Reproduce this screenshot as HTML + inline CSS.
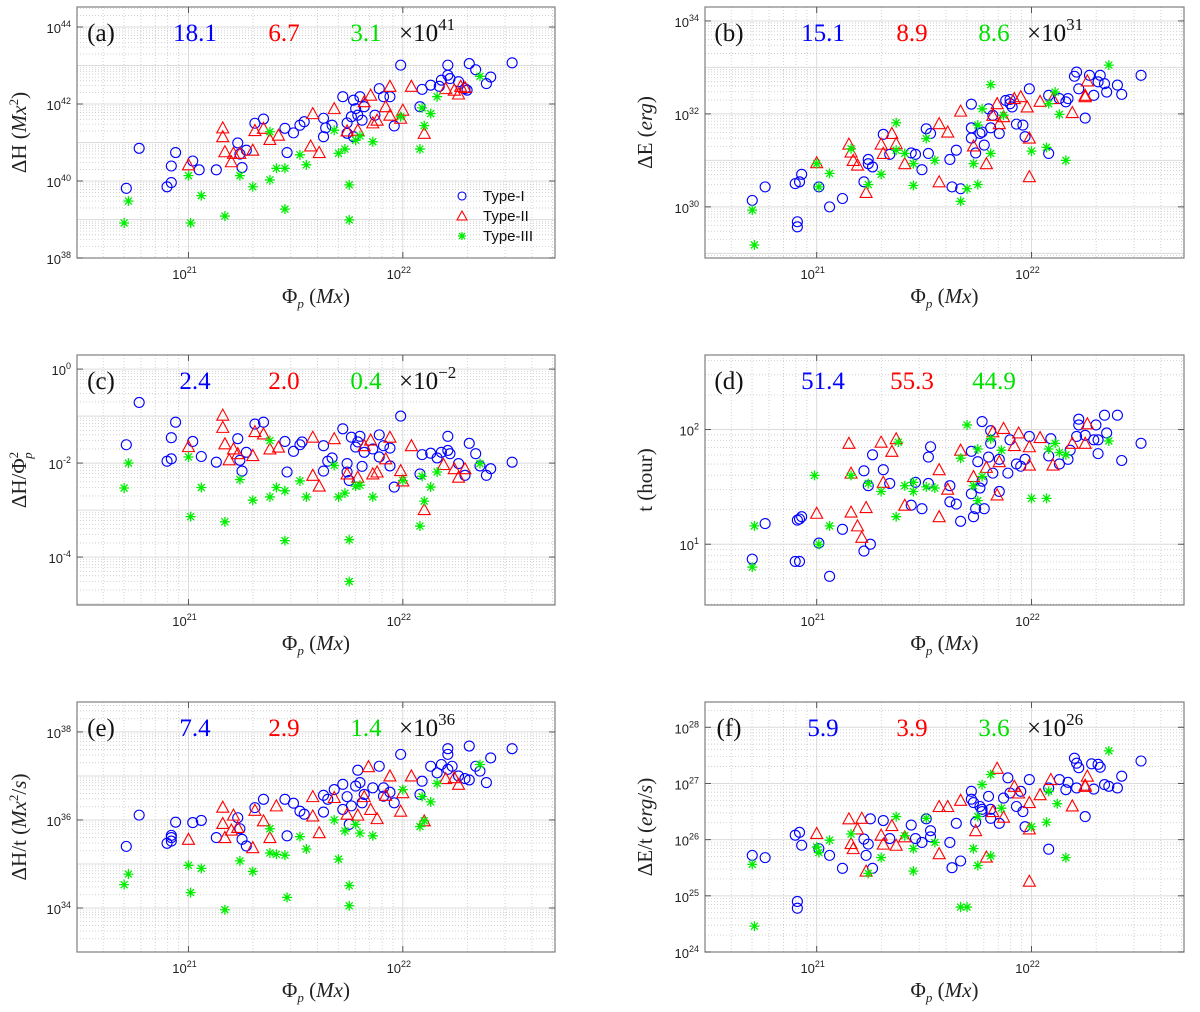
<!DOCTYPE html>
<html><head><meta charset="utf-8">
<style>
html,body{margin:0;padding:0;background:#fff;}
svg{display:block;}
.tick{font-family:"Liberation Sans",sans-serif;font-size:13px;fill:#222;}
.lab{font-family:"Liberation Serif",serif;font-size:21px;fill:#222;}
.ann{font-family:"Liberation Serif",serif;font-size:25px;}
.leg{font-family:"Liberation Sans",sans-serif;font-size:15px;fill:#111;}
</style></head>
<body>
<svg id="fig" width="1200" height="1012" viewBox="0 0 1200 1012" xmlns="http://www.w3.org/2000/svg"></svg>
<script>
// ===== data: [log10(Phi_p), log10(value)] =====
const aBlue=[[20.71,39.81],[20.77,40.85],[20.90,39.85],[20.92,39.96],[20.92,40.39],[20.94,40.74],[21.02,40.52],[21.05,40.29],[21.13,40.29],[21.23,40.99],[21.24,40.70],[21.25,40.35],[21.27,40.80],[21.31,41.50],[21.35,41.61],[21.45,41.37],[21.46,40.74],[21.49,41.25],[21.52,41.45],[21.54,41.54],[21.63,41.63],[21.63,41.15],[21.64,41.38],[21.67,41.45],[21.72,42.19],[21.74,41.24],[21.74,41.51],[21.76,41.67],[21.77,42.10],[21.78,41.88],[21.79,41.71],[21.80,42.19],[21.81,41.58],[21.82,41.93],[21.87,41.71],[21.89,42.40],[21.91,42.19],[21.94,42.19],[21.96,41.43],[21.99,43.01],[22.08,41.93],[22.09,42.38],[22.13,42.49],[22.17,42.46],[22.18,42.62],[22.21,43.01],[22.21,42.75],[22.22,42.66],[22.26,42.58],[22.29,42.40],[22.30,42.36],[22.31,43.05],[22.34,42.89],[22.39,42.53],[22.41,42.70],[22.51,43.07],[21.77,41.15]];
const aRed=[[21.16,41.38],[21.16,41.15],[21.17,40.76],[21.20,40.50],[21.21,40.72],[21.24,40.72],[21.30,40.80],[21.31,41.31],[21.35,41.37],[21.38,41.08],[21.42,41.19],[21.58,41.75],[21.57,40.91],[21.61,40.74],[21.68,41.88],[21.74,41.30],[21.79,41.32],[21.82,42.06],[21.85,42.23],[21.86,41.51],[21.88,41.58],[21.92,41.93],[21.94,42.46],[21.94,41.71],[21.99,41.63],[22.00,41.84],[22.04,42.46],[22.10,41.24],[22.20,42.40],[22.24,42.36],[22.26,42.26],[22.27,42.46],[22.29,42.43],[21.00,40.42]];
const aGreen=[[20.70,38.91],[20.72,39.48],[21.00,40.14],[21.01,38.91],[21.06,39.62],[21.17,39.09],[21.24,40.14],[21.30,39.85],[21.38,40.03],[21.38,41.28],[21.41,40.33],[21.45,40.33],[21.45,39.27],[21.52,40.68],[21.55,40.42],[21.68,41.32],[21.70,40.72],[21.73,40.83],[21.75,39.90],[21.75,38.99],[21.78,41.06],[21.80,41.17],[21.86,41.02],[21.99,41.67],[22.08,40.83],[22.09,41.90],[22.10,41.44],[22.13,41.75],[22.16,42.19],[22.36,42.72]];

const bBlue=[[20.70,30.14],[20.76,30.43],[20.90,30.50],[20.92,30.54],[20.93,30.70],[20.91,29.68],[20.91,29.57],[21.01,30.43],[21.06,30.00],[21.12,30.18],[21.22,30.54],[21.24,31.02],[21.24,30.93],[21.26,30.86],[21.31,31.56],[21.34,31.13],[21.44,31.16],[21.46,31.13],[21.49,30.80],[21.51,31.68],[21.52,31.15],[21.53,31.58],[21.62,31.02],[21.63,30.43],[21.65,31.22],[21.67,30.39],[21.72,32.21],[21.72,31.70],[21.72,31.48],[21.74,31.16],[21.76,31.58],[21.77,31.61],[21.78,31.33],[21.80,32.11],[21.81,31.70],[21.82,31.97],[21.85,31.58],[21.88,32.29],[21.90,32.31],[21.91,32.15],[21.93,31.78],[21.96,31.76],[21.97,31.51],[21.99,32.54],[22.08,31.15],[22.08,32.40],[22.13,32.33],[22.16,32.26],[22.17,32.33],[22.20,32.81],[22.21,32.90],[22.22,32.54],[22.25,31.91],[22.27,32.83],[22.29,32.40],[22.31,32.69],[22.34,32.65],[22.35,32.47],[22.40,32.62],[22.42,32.42],[22.51,32.83],[22.32,32.83],[21.90,32.22]];
const bRed=[[21.00,30.95],[21.15,31.35],[21.16,31.18],[21.17,31.00],[21.19,30.90],[21.23,30.31],[21.30,31.35],[21.31,31.15],[21.35,31.58],[21.37,31.36],[21.41,30.93],[21.57,30.54],[21.57,31.79],[21.61,31.61],[21.67,32.06],[21.73,31.31],[21.79,30.93],[21.82,31.97],[21.84,32.22],[21.85,31.79],[21.87,31.94],[21.92,32.33],[21.95,32.37],[21.98,32.15],[21.99,31.48],[21.99,30.65],[22.04,32.27],[22.10,32.33],[22.19,32.03],[22.25,32.37],[22.25,32.40],[22.26,32.71]];
const bGreen=[[20.70,29.93],[20.71,29.18],[21.00,30.93],[21.01,30.43],[21.06,30.72],[21.16,31.25],[21.24,30.48],[21.30,30.70],[21.37,31.81],[21.37,31.22],[21.41,31.15],[21.45,30.93],[21.45,30.46],[21.51,31.47],[21.55,31.00],[21.67,30.12],[21.70,30.39],[21.73,30.93],[21.75,30.48],[21.75,31.76],[21.77,32.11],[21.81,32.63],[21.81,31.15],[21.87,31.97],[22.00,31.20],[22.07,31.28],[22.08,32.22],[22.11,32.47],[22.13,31.99],[22.16,31.00],[22.36,33.05]];

const cBlue=[[20.71,-1.61],[20.77,-0.71],[20.90,-1.96],[20.92,-1.91],[20.92,-1.46],[20.94,-1.13],[21.02,-1.54],[21.06,-1.86],[21.13,-1.98],[21.23,-1.48],[21.24,-1.94],[21.25,-2.17],[21.27,-1.77],[21.31,-1.17],[21.35,-1.13],[21.45,-1.54],[21.46,-2.19],[21.49,-1.75],[21.52,-1.61],[21.53,-1.55],[21.63,-1.63],[21.63,-2.17],[21.65,-1.96],[21.67,-1.89],[21.72,-1.27],[21.74,-2.01],[21.74,-2.19],[21.75,-2.37],[21.76,-1.45],[21.78,-1.66],[21.79,-1.55],[21.80,-1.43],[21.81,-2.07],[21.82,-1.77],[21.86,-1.70],[21.89,-1.40],[21.91,-1.63],[21.94,-1.68],[21.94,-2.06],[21.96,-2.51],[21.99,-1.00],[22.08,-2.23],[22.09,-1.82],[22.13,-1.79],[22.16,-1.89],[22.18,-1.77],[22.21,-1.43],[22.21,-1.73],[22.22,-1.80],[22.26,-2.01],[22.29,-2.26],[22.31,-1.58],[22.34,-1.80],[22.36,-2.06],[22.39,-2.26],[22.41,-2.12],[22.51,-1.98],[21.89,-1.87]];
const cRed=[[21.00,-1.65],[21.16,-0.98],[21.16,-1.24],[21.17,-1.59],[21.19,-1.93],[21.21,-1.70],[21.23,-1.80],[21.30,-1.84],[21.31,-1.33],[21.35,-1.38],[21.38,-1.70],[21.42,-1.66],[21.58,-2.26],[21.58,-1.45],[21.61,-2.49],[21.68,-1.48],[21.74,-2.23],[21.79,-2.30],[21.82,-1.63],[21.85,-1.51],[21.86,-2.23],[21.88,-2.19],[21.92,-1.91],[21.94,-1.45],[21.99,-2.16],[22.00,-2.38],[22.04,-1.63],[22.10,-2.99],[22.19,-2.03],[22.24,-2.12],[22.26,-2.30],[22.29,-2.12]];
const cGreen=[[20.70,-2.53],[20.72,-2.00],[21.00,-1.87],[21.01,-3.14],[21.06,-2.52],[21.17,-3.25],[21.24,-2.35],[21.30,-2.79],[21.38,-2.72],[21.38,-1.52],[21.41,-2.52],[21.45,-2.59],[21.45,-3.65],[21.52,-2.38],[21.55,-2.72],[21.68,-2.05],[21.70,-2.72],[21.73,-2.64],[21.75,-3.63],[21.75,-4.52],[21.78,-2.49],[21.80,-2.47],[21.86,-2.72],[22.00,-2.37],[22.08,-3.34],[22.09,-2.28],[22.10,-2.81],[22.13,-2.51],[22.16,-2.19],[22.36,-2.01]];

const dBlue=[[20.70,0.87],[20.76,1.18],[20.90,0.85],[20.92,0.85],[20.91,1.21],[20.92,1.22],[20.93,1.24],[21.01,1.01],[21.06,0.72],[21.12,1.13],[21.22,0.94],[21.25,1.00],[21.22,1.64],[21.24,1.51],[21.26,1.78],[21.31,1.65],[21.34,1.53],[21.44,1.34],[21.46,1.54],[21.49,1.31],[21.52,1.76],[21.53,1.85],[21.52,1.53],[21.62,1.51],[21.62,1.37],[21.65,1.35],[21.67,1.20],[21.72,1.81],[21.72,1.44],[21.73,1.24],[21.75,1.72],[21.74,1.31],[21.76,1.49],[21.77,1.55],[21.78,1.31],[21.77,2.07],[21.80,1.76],[21.81,1.99],[21.81,1.88],[21.82,1.62],[21.85,1.74],[21.85,1.46],[21.89,1.62],[21.90,1.91],[21.93,1.70],[21.95,1.68],[21.97,1.74],[21.99,1.94],[22.08,1.77],[22.09,1.92],[22.13,1.70],[22.17,1.74],[22.18,1.82],[22.21,1.94],[22.22,2.09],[22.22,2.04],[22.25,1.95],[22.29,1.91],[22.30,2.04],[22.31,1.79],[22.31,1.91],[22.34,2.125],[22.35,1.97],[22.40,2.125],[22.42,1.73],[22.51,1.88]];
const dRed=[[21.00,1.27],[21.15,1.88],[21.16,1.62],[21.16,1.28],[21.19,1.16],[21.21,1.06],[21.23,1.32],[21.30,1.89],[21.31,1.54],[21.35,1.81],[21.37,1.92],[21.41,1.34],[21.57,1.65],[21.57,1.24],[21.61,1.48],[21.67,1.82],[21.73,1.59],[21.79,1.67],[21.82,1.98],[21.84,1.43],[21.85,1.72],[21.87,2.01],[21.92,1.86],[21.94,1.97],[21.99,1.85],[21.99,1.69],[22.04,1.93],[22.10,1.69],[22.19,1.88],[22.25,1.88],[22.26,2.05]];
const dGreen=[[20.70,0.80],[20.71,1.16],[20.99,1.60],[21.01,1.00],[21.06,1.16],[21.16,1.60],[21.24,1.53],[21.30,1.46],[21.37,1.24],[21.38,1.89],[21.41,1.51],[21.45,1.46],[21.45,1.54],[21.51,1.50],[21.55,1.49],[21.67,1.75],[21.70,2.04],[21.73,1.51],[21.75,1.38],[21.75,1.83],[21.77,1.59],[21.81,1.92],[21.86,1.82],[22.00,1.40],[22.07,1.40],[22.08,1.83],[22.11,1.88],[22.13,1.80],[22.16,1.78],[22.36,1.90]];

const eBlue=[[20.71,35.40],[20.77,36.11],[20.90,35.47],[20.92,35.60],[20.92,35.65],[20.92,35.52],[20.94,35.95],[21.02,35.94],[21.06,35.99],[21.13,35.60],[21.23,36.05],[21.24,35.80],[21.25,35.56],[21.27,35.41],[21.31,36.28],[21.35,36.47],[21.45,36.47],[21.46,35.64],[21.49,36.38],[21.52,36.20],[21.54,36.13],[21.63,36.56],[21.63,36.18],[21.65,36.47],[21.68,36.69],[21.72,36.81],[21.72,36.24],[21.74,36.53],[21.75,35.90],[21.76,36.32],[21.78,36.77],[21.79,37.13],[21.80,36.85],[21.81,36.39],[21.82,36.58],[21.86,36.73],[21.89,37.22],[21.91,36.73],[21.94,36.63],[21.96,36.39],[21.99,37.49],[22.08,36.58],[22.09,36.88],[22.13,37.22],[22.16,37.07],[22.18,37.26],[22.21,37.62],[22.21,37.49],[22.21,37.15],[22.23,37.22],[22.26,37.00],[22.29,36.94],[22.31,36.91],[22.31,37.68],[22.34,37.22],[22.36,37.11],[22.39,36.85],[22.41,37.41],[22.51,37.62],[21.91,36.54]];
const eRed=[[21.00,35.56],[21.16,36.29],[21.16,35.92],[21.17,35.60],[21.20,35.77],[21.21,36.11],[21.23,35.83],[21.30,35.37],[21.31,36.22],[21.35,35.98],[21.38,35.60],[21.41,36.32],[21.58,36.09],[21.58,36.53],[21.61,35.71],[21.68,36.51],[21.74,36.13],[21.79,36.11],[21.82,36.53],[21.84,37.21],[21.85,36.24],[21.88,36.03],[21.92,36.56],[21.94,37.00],[21.99,36.20],[22.00,36.62],[22.04,37.00],[22.10,35.98],[22.20,36.94],[22.24,36.96],[22.26,36.81]];
const eGreen=[[20.70,34.53],[20.72,34.77],[21.00,34.97],[21.01,34.35],[21.06,34.90],[21.17,33.96],[21.24,35.07],[21.30,34.83],[21.38,35.80],[21.38,35.25],[21.41,35.22],[21.45,35.20],[21.46,34.24],[21.52,35.62],[21.55,35.34],[21.68,36.00],[21.70,35.11],[21.73,35.75],[21.75,34.51],[21.75,34.05],[21.78,35.90],[21.80,35.70],[21.86,35.64],[22.00,36.69],[22.08,35.85],[22.09,36.53],[22.10,35.98],[22.13,36.41],[22.16,36.83],[22.36,37.26]];

const fBlue=[[20.70,25.72],[20.76,25.68],[20.90,26.08],[20.92,26.13],[20.93,25.90],[20.91,24.90],[20.91,24.78],[21.01,25.84],[21.06,25.72],[21.12,25.49],[21.22,26.01],[21.23,25.72],[21.24,25.92],[21.25,26.37],[21.26,25.49],[21.31,26.34],[21.34,26.02],[21.44,26.26],[21.46,26.02],[21.49,25.95],[21.51,26.37],[21.53,26.16],[21.53,26.05],[21.62,25.95],[21.63,25.50],[21.65,26.29],[21.67,25.62],[21.72,26.86],[21.72,26.72],[21.73,26.66],[21.74,26.31],[21.76,26.59],[21.77,26.54],[21.77,26.50],[21.80,26.77],[21.81,26.54],[21.81,26.38],[21.85,26.29],[21.87,26.74],[21.89,27.10],[21.90,26.83],[21.93,26.59],[21.95,26.86],[21.96,26.50],[21.97,26.23],[21.99,27.07],[22.08,25.83],[22.08,26.92],[22.13,27.07],[22.16,26.89],[22.17,27.02],[22.20,27.45],[22.21,27.36],[22.21,26.92],[22.22,27.28],[22.25,26.41],[22.29,26.90],[22.28,27.35],[22.31,27.34],[22.32,27.29],[22.34,26.98],[22.36,26.95],[22.40,26.92],[22.42,27.13],[22.51,27.40]];
const fRed=[[21.00,26.11],[21.15,26.37],[21.16,25.93],[21.17,25.84],[21.19,26.19],[21.21,26.38],[21.23,25.44],[21.30,26.08],[21.31,25.92],[21.35,26.25],[21.37,25.90],[21.41,26.05],[21.57,25.75],[21.57,26.59],[21.61,26.59],[21.67,26.70],[21.74,26.16],[21.79,25.69],[21.82,26.50],[21.84,27.27],[21.87,26.40],[21.92,26.95],[21.94,26.83],[21.99,26.66],[21.99,26.19],[21.99,25.26],[22.04,26.80],[22.09,27.07],[22.19,26.60],[22.25,26.95],[22.25,26.97],[22.26,27.13]];
const fGreen=[[20.70,25.56],[20.71,24.46],[21.00,25.87],[21.01,25.77],[21.06,25.99],[21.16,26.10],[21.24,25.40],[21.30,25.68],[21.37,26.41],[21.41,26.07],[21.45,25.84],[21.45,25.44],[21.51,26.38],[21.55,25.95],[21.67,24.80],[21.70,24.80],[21.73,25.84],[21.75,25.54],[21.75,26.41],[21.77,26.98],[21.81,27.16],[21.81,25.71],[21.86,26.56],[22.00,26.23],[22.07,26.31],[22.08,26.86],[22.12,26.64],[22.16,25.68],[22.36,27.58]];

const meanBlue=['18.1','15.1','2.4','51.4','7.4','5.9'];
const meanRed=['6.7','8.9','2.0','55.3','2.9','3.9'];
const meanGreen=['3.1','8.6','0.4','44.9','1.4','3.6'];
const meanExp=['41','31','\u22122','','36','26'];
const xTickExps=[21,22];

const panels=[
 {k:'a',L:77,T:7,R:555,B:258,y0:38,y1:44.52,yt:[38,40,42,44],data:[aBlue,aRed,aGreen],ylab:'a'},
 {k:'b',L:705,T:7,R:1184,B:258,y0:28.9,y1:34.3,yt:[30,32,34],data:[bBlue,bRed,bGreen],ylab:'b'},
 {k:'c',L:77,T:355,R:555,B:605,y0:-5.02,y1:0.3,yt:[-4,-2,0],data:[cBlue,cRed,cGreen],ylab:'c'},
 {k:'d',L:705,T:355,R:1184,B:605,y0:0.47,y1:2.65,yt:[1,2],data:[dBlue,dRed,dGreen],ylab:'d'},
 {k:'e',L:77,T:702,R:555,B:952,y0:33,y1:38.68,yt:[34,36,38],data:[eBlue,eRed,eGreen],ylab:'e'},
 {k:'f',L:705,T:702,R:1184,B:952,y0:24,y1:28.45,yt:[24,25,26,27,28],data:[fBlue,fRed,fGreen],ylab:'f'}
];
const X0=20.48,X1=22.71;
const NS='http://www.w3.org/2000/svg';
const svg=document.getElementById('fig');
function mk(tag,attrs,parent){const e=document.createElementNS(NS,tag);for(const a in attrs)e.setAttribute(a,attrs[a]);(parent||svg).appendChild(e);return e;}

panels.forEach((p,pi)=>{
 const g=mk('g',{});
 
 
 const sx=v=>p.L+(v-X0)/(X1-X0)*(p.R-p.L);
 const sy=v=>p.B-(v-p.y0)/(p.y1-p.y0)*(p.B-p.T);
 mk('rect',{x:p.L,y:p.T,width:p.R-p.L,height:p.B-p.T,fill:'#fff'},g);
 // grids
 const grid=mk('g',{},g);
 
 
 for(let d=20;d<=22;d++){for(let m=1;m<10;m++){const v=d+Math.log10(m);if(v<X0||v>X1)continue;const x=sx(v);
   mk('line',{x1:x,x2:x,y1:p.T,y2:p.B,stroke:m==1?'#dcdcdc':'#c8c8c8','stroke-width':m==1?1:0.8,'stroke-dasharray':m==1?'':'1,2'},grid);}}
 for(let d=Math.floor(p.y0);d<=Math.ceil(p.y1);d++){for(let m=1;m<10;m++){const v=d+Math.log10(m);if(v<p.y0||v>p.y1)continue;const y=sy(v);
   mk('line',{x1:p.L,x2:p.R,y1:y,y2:y,stroke:m==1?'#dcdcdc':'#c8c8c8','stroke-width':m==1?1:0.8,'stroke-dasharray':m==1?'':'1,2'},grid);}}
 mk('rect',{x:p.L,y:p.T,width:p.R-p.L,height:p.B-p.T,fill:'none',stroke:'#808080','stroke-width':1.2},g);
 // y ticks
 p.yt.forEach(v=>{const y=sy(v);
  mk('line',{x1:p.L,x2:p.L+6,y1:y,y2:y,stroke:'#555'},g);mk('line',{x1:p.R,x2:p.R-6,y1:y,y2:y,stroke:'#555'},g);
  const t=mk('text',{x:p.L-6,y:y+6,'text-anchor':'end',class:'tick'},g);
  
  
  t.appendChild(document.createTextNode('10'));
  const s=mk('tspan',{dy:-6,'font-size':9},t);s.textContent=String(v).replace('-','-');
 });
 xTickExps.forEach(v=>{const x=sx(v);
  mk('line',{x1:x,x2:x,y1:p.B,y2:p.B-6,stroke:'#555'},g);mk('line',{x1:x,x2:x,y1:p.T,y2:p.T+6,stroke:'#555'},g);
  const t=mk('text',{x:x-4,y:p.B+21,'text-anchor':'middle',class:'tick'},g);
  
  
  t.appendChild(document.createTextNode('10'));
  const s=mk('tspan',{dy:-6,'font-size':9},t);s.textContent=v;
 });
 // x label
 const xl=mk('text',{x:(p.L+p.R)/2,y:p.B+45,'text-anchor':'middle',class:'lab'},g);
 
 
 xl.innerHTML='\u03A6<tspan font-size="13" font-style="italic" dy="5">p</tspan><tspan dy="-5"> (</tspan><tspan font-style="italic">Mx</tspan>)';
 // y label
 const yx=p.L<300?26:652, yc=(p.T+p.B)/2;
 const yl=mk('text',{x:yx,y:yc,'text-anchor':'middle',class:'lab',transform:`rotate(-90 ${yx} ${yc})`},g);
 
 
 const YL={a:'\u0394H (<tspan font-style="italic">Mx</tspan><tspan font-size="13" dy="-8">2</tspan><tspan dy="8">)</tspan>',
  b:'\u0394E (<tspan font-style="italic">erg</tspan>)',
  c:'\u0394H/\u03A6<tspan font-size="13" dy="-8">2</tspan><tspan font-size="13" font-style="italic" dx="-7" dy="14">p</tspan>',
  d:'t (hour)',
  e:'\u0394H/t (<tspan font-style="italic">Mx</tspan><tspan font-size="13" dy="-8">2</tspan><tspan dy="8">/</tspan><tspan font-style="italic">s</tspan>)',
  f:'\u0394E/t (<tspan font-style="italic">erg</tspan>/<tspan font-style="italic">s</tspan>)'};
 yl.innerHTML=YL[p.k];
 // markers
 const cols=['#0000ff','#ff0000','#00ee00'];
 p.data.forEach((arr,si)=>{
  const sg=mk('g',{},g);
  
  
  arr.forEach(pt=>{const x=sx(pt[0]),y=sy(pt[1]);let m;
   if(si==0){m=mk('circle',{cx:x,cy:y,r:5,fill:'none',stroke:cols[0],'stroke-width':1.1},sg);}
   else if(si==1){m=mk('polygon',{points:`${x},${y-6} ${x-6},${y+5} ${x+6},${y+5}`,fill:'none',stroke:cols[1],'stroke-width':1.1},sg);}
   else{const r=5,q=3.5;m=mk('path',{d:`M${x-r},${y}H${x+r}M${x},${y-r}V${y+r}M${x-q},${y-q}L${x+q},${y+q}M${x-q},${y+q}L${x+q},${y-q}`,stroke:cols[2],'stroke-width':1.3},sg);}
   
   
  });
 });
 // annotations
 const ay=p.T+34;
 const lab=mk('text',{x:p.L+24,y:ay,'text-anchor':'middle',class:'ann',fill:'#111'},g);
 
 
 lab.textContent='('+p.k+')';
 [[meanBlue,'#0000ff',118],[meanRed,'#ff0000',207],[meanGreen,'#00e000',289]].forEach(([arr,c,dx],i)=>{
  const t=mk('text',{x:p.L+dx,y:ay,'text-anchor':'middle',class:'ann',fill:c},g);
  
  
  t.textContent=arr[pi];
 });
 if(meanExp[pi]){
  const t=mk('text',{x:p.L+322,y:ay,class:'ann',fill:'#111'},g);
  
  
  t.innerHTML='\u00D710<tspan font-size="17" dy="-11">'+meanExp[pi]+'</tspan>';
 }
 // legend in panel a
 if(p.k==='a'){
  const lg=mk('g',{},g);
  
  
  const names=['Type-I','Type-II','Type-III'];
  names.forEach((n,i)=>{const y=196+i*20,x=462;
   if(i==0)mk('circle',{cx:x,cy:y,r:4,fill:'none',stroke:cols[0],'stroke-width':1.1},lg);
   else if(i==1)mk('polygon',{points:`${x},${y-5} ${x-5},${y+4} ${x+5},${y+4}`,fill:'none',stroke:cols[1],'stroke-width':1.1},lg);
   else mk('path',{d:`M${x-4},${y}H${x+4}M${x},${y-4}V${y+4}M${x-3},${y-3}L${x+3},${y+3}M${x-3},${y+3}L${x+3},${y-3}`,stroke:cols[2],'stroke-width':1.3},lg);
   const t=mk('text',{x:483,y:y+5,class:'leg'},lg);
   
   
   t.textContent=n;
  });
 }
});
</script>
</body></html>
